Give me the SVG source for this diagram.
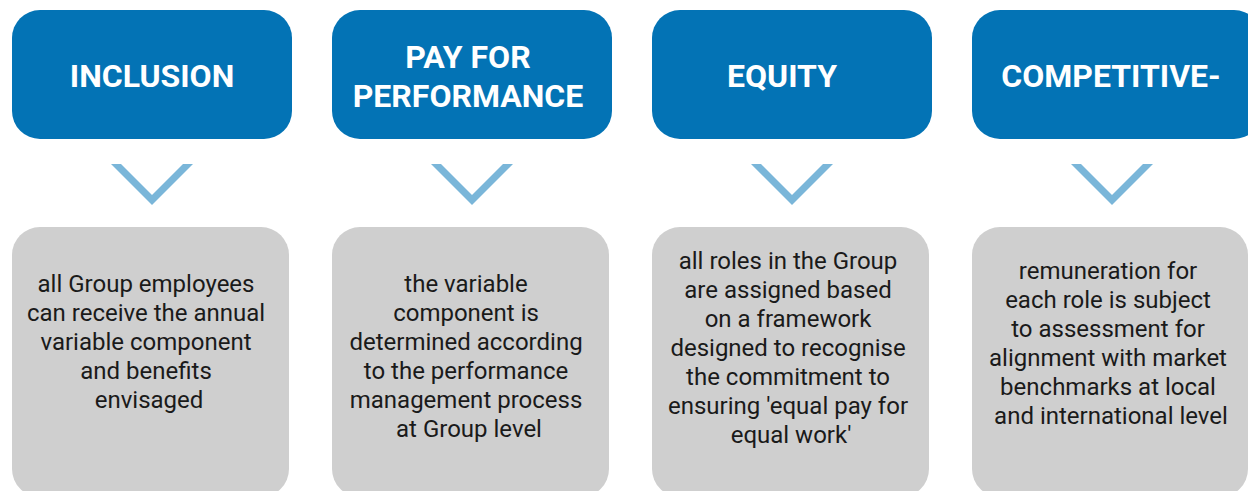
<svg xmlns="http://www.w3.org/2000/svg" width="1248" height="491" viewBox="0 0 1248 491">
  <defs>
    <style>
      .head { fill: #0373b5; }
      .body { fill: #cfcfcf; }
      .chev { fill: #7ab6d9; }
      .title { font-family: Roboto, "Liberation Sans", sans-serif; font-weight: bold; font-size: 32px; fill: #ffffff; text-anchor: middle; }
      .desc { font-family: Roboto, "Liberation Sans", sans-serif; font-size: 24px; fill: #1a1a1a; text-anchor: middle; }
    </style>
    <!-- down chevron, apex at (0,0) -->
    <polygon id="chevron" points="-41,-41 -31,-41 0,-10 31,-41 41,-41 0,0"/>
  </defs>

  <rect width="1248" height="491" fill="#ffffff"/>

  <g id="inclusion">
    <rect class="head" x="12" y="10" width="280" height="129" rx="28"/>
    <text class="title" x="152" y="87">INCLUSION</text>
  </g>
  <g id="inclusion-detail">
    <rect class="body" x="12" y="227" width="277" height="270" rx="28"/>
    <text class="desc" x="149" y="292">
      <tspan x="149">all Group employees</tspan>
      <tspan x="149" dy="29">can receive the annual</tspan>
      <tspan x="149" dy="29">variable component</tspan>
      <tspan x="149" dy="29">and benefits</tspan>
      <tspan x="149" dy="29">envisaged</tspan>
    </text>
  </g>

  <g id="pay-for-performance">
    <rect class="head" x="332" y="10" width="280" height="129" rx="28"/>
    <text class="title" x="468" y="68">PAY FOR</text>
    <text class="title" x="468" y="107">PERFORMANCE</text>
  </g>
  <g id="pay-for-performance-detail">
    <rect class="body" x="332" y="227" width="277" height="270" rx="28"/>
    <text class="desc" x="469" y="292">
      <tspan x="469">the variable</tspan>
      <tspan x="469" dy="29">component is</tspan>
      <tspan x="469" dy="29">determined according</tspan>
      <tspan x="469" dy="29">to the performance</tspan>
      <tspan x="469" dy="29">management process</tspan>
      <tspan x="469" dy="29">at Group level</tspan>
    </text>
  </g>

  <g id="equity">
    <rect class="head" x="652" y="10" width="280" height="129" rx="28"/>
    <text class="title" x="782" y="87">EQUITY</text>
  </g>
  <g id="equity-detail">
    <rect class="body" x="652" y="227" width="277" height="270" rx="28"/>
    <text class="desc" x="791" y="269">
      <tspan x="791">all roles in the Group</tspan>
      <tspan x="791" dy="29">are assigned based</tspan>
      <tspan x="791" dy="29">on a framework</tspan>
      <tspan x="791" dy="29">designed to recognise</tspan>
      <tspan x="791" dy="29">the commitment to</tspan>
      <tspan x="791" dy="29">ensuring 'equal pay for</tspan>
      <tspan x="791" dy="29">equal work'</tspan>
    </text>
  </g>

  <g id="competitive">
    <rect class="head" x="972" y="10" width="290" height="129" rx="28"/>
    <text class="title" x="1111" y="87">COMPETITIVE-</text>
  </g>
  <g id="competitive-detail">
    <rect class="body" x="972" y="227" width="276" height="270" rx="28"/>
    <text class="desc" x="1111" y="279">
      <tspan x="1111">remuneration for</tspan>
      <tspan x="1111" dy="29">each role is subject</tspan>
      <tspan x="1111" dy="29">to assessment for</tspan>
      <tspan x="1111" dy="29">alignment with market</tspan>
      <tspan x="1111" dy="29">benchmarks at local</tspan>
      <tspan x="1111" dy="29">and international level</tspan>
    </text>
  </g>

  <g id="connectors" class="chev">
    <use href="#chevron" x="152" y="205"/>
    <use href="#chevron" x="472" y="205"/>
    <use href="#chevron" x="792" y="205"/>
    <use href="#chevron" x="1112" y="205"/>
  </g>
</svg>
